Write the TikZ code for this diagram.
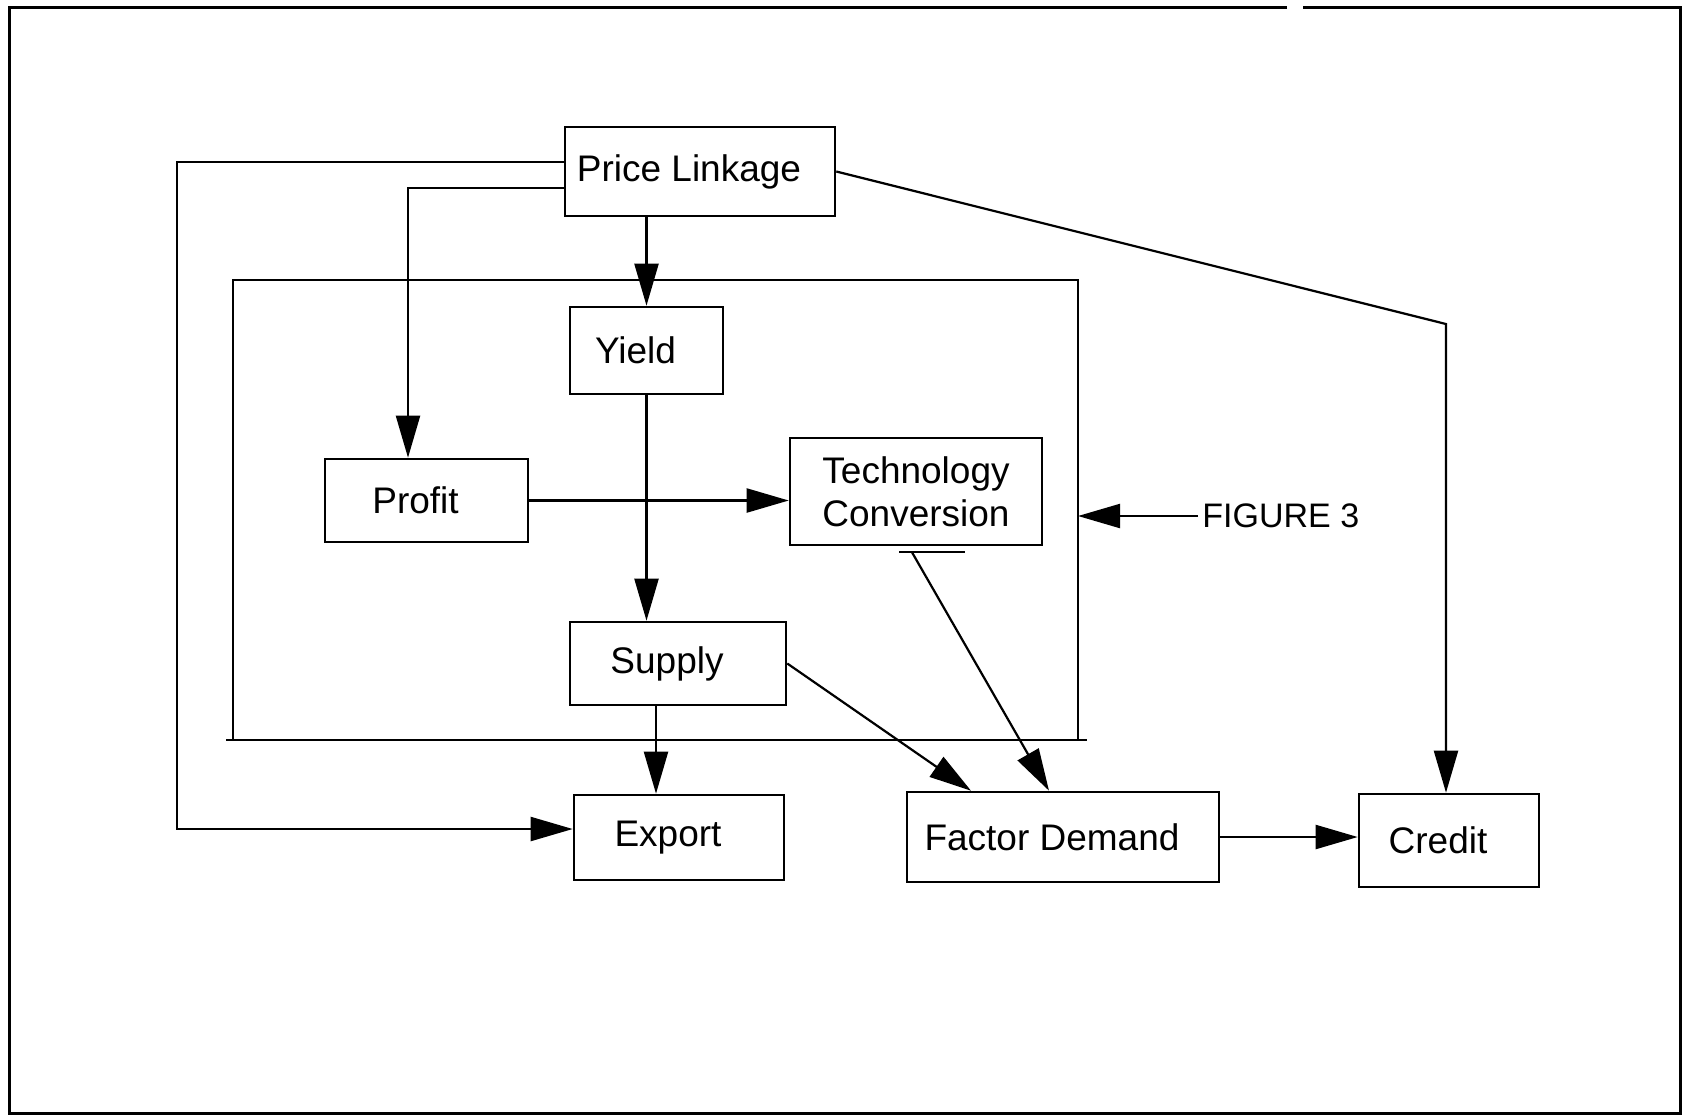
\documentclass[tikz,border=0pt]{standalone}
\usepackage{fontspec}
\setmainfont{Liberation Sans}
\usetikzlibrary{arrows.meta}

\begin{document}
\begin{tikzpicture}[x=0.5pt,y=-0.5pt,
  box/.style={draw, line width=1.3pt, inner sep=0pt, font=\fontsize{18.5}{21.5}\selectfont},
  lefttext/.style={execute at end node={\hspace{11pt}}},
  arr/.style={line width=1.1pt, -{Triangle[length=21pt,width=12pt]}},
  ln/.style={line width=1.1pt}]
\useasboundingbox (0,0) rectangle (1682,1116);

%Shape: Outer Frame
\draw[line width=1.5pt] (1287,7) -- (9,7) -- (9,1113) -- (1680,1113) -- (1680,7) -- (1303,7);

%Shape: Inner Frame
\coordinate (frameTL) at (233,280);
\coordinate (frameTR) at (1078,280);
\draw[line width=1.2pt] (233,740) -- (frameTL) -- (frameTR) -- (1078,740);
\draw[line width=1.4pt] (226,740) -- (1087,740);

% Text Node
\node[box, lefttext, minimum width=135pt, minimum height=44.5pt] (price) at (700,171.5) {Price Linkage};
% Text Node
\node[box, lefttext, minimum width=76.5pt, minimum height=43.5pt] (yield) at (646.5,350.5) {Yield};
% Text Node
\node[box, lefttext, minimum width=101.5pt, minimum height=41.5pt] (profit) at (426.5,500.5) {Profit};
% Text Node
\node[box, minimum width=126pt, minimum height=53.5pt, align=left] (tech) at (916,491.5) {Technology\\Conversion};
% Text Node
\node[box, lefttext, minimum width=108pt, minimum height=41.5pt] (supply) at (678,663.5) {Supply};
% Text Node
\node[box, lefttext, minimum width=105pt, minimum height=42.5pt] (export) at (679,837.5) {Export};
% Text Node
\node[box, lefttext, minimum width=156pt, minimum height=45pt] (factor) at (1063,837) {Factor Demand};
% Text Node
\node[box, lefttext, minimum width=90pt, minimum height=46.5pt] (credit) at (1449,840.5) {Credit};
% Text Node
\node[anchor=west, inner sep=2pt, font=\fontsize{17}{20}\selectfont] (fig) at (1198,516) {FIGURE 3};

%Straight Lines
\coordinate (bendA) at (177,162);
\coordinate (bendA2) at (177,829);
\coordinate (bendB) at (408,188);
\coordinate (bendC) at (1446,324);
\coordinate (supplyout) at ([xshift=-11pt]supply.south);

\draw[arr] (price.west |- bendA) -- (bendA) -- (bendA2) -- (bendA2 -| export.west);
\draw[arr] (price.west |- bendB) -- (bendB) -- (bendB |- profit.north);
\draw[arr] (yield.north |- price.south) -- (yield.north);
\draw[arr] (price.east) -- (bendC) -- (bendC |- credit.north);

\draw[arr] (yield.south) -- (yield.south |- supply.north);
\draw[arr] (profit.east) -- (profit.east -| tech.west);
\draw[ln] ([shift={(-8.5pt,-3pt)}]tech.south) -- ++(33pt,0pt);
\draw[arr] ([shift={(-2pt,-3pt)}]tech.south) -- ([xshift=-7pt]factor.north);
\draw[arr] (supply.east) -- ([xshift=-46pt]factor.north);
\draw[arr] (supplyout) -- (supplyout |- export.north);
\draw[arr] (factor.east) -- (factor.east -| credit.west);

\draw[arr] (fig.west) -- (fig.west -| frameTR);

\end{tikzpicture}
\end{document}
